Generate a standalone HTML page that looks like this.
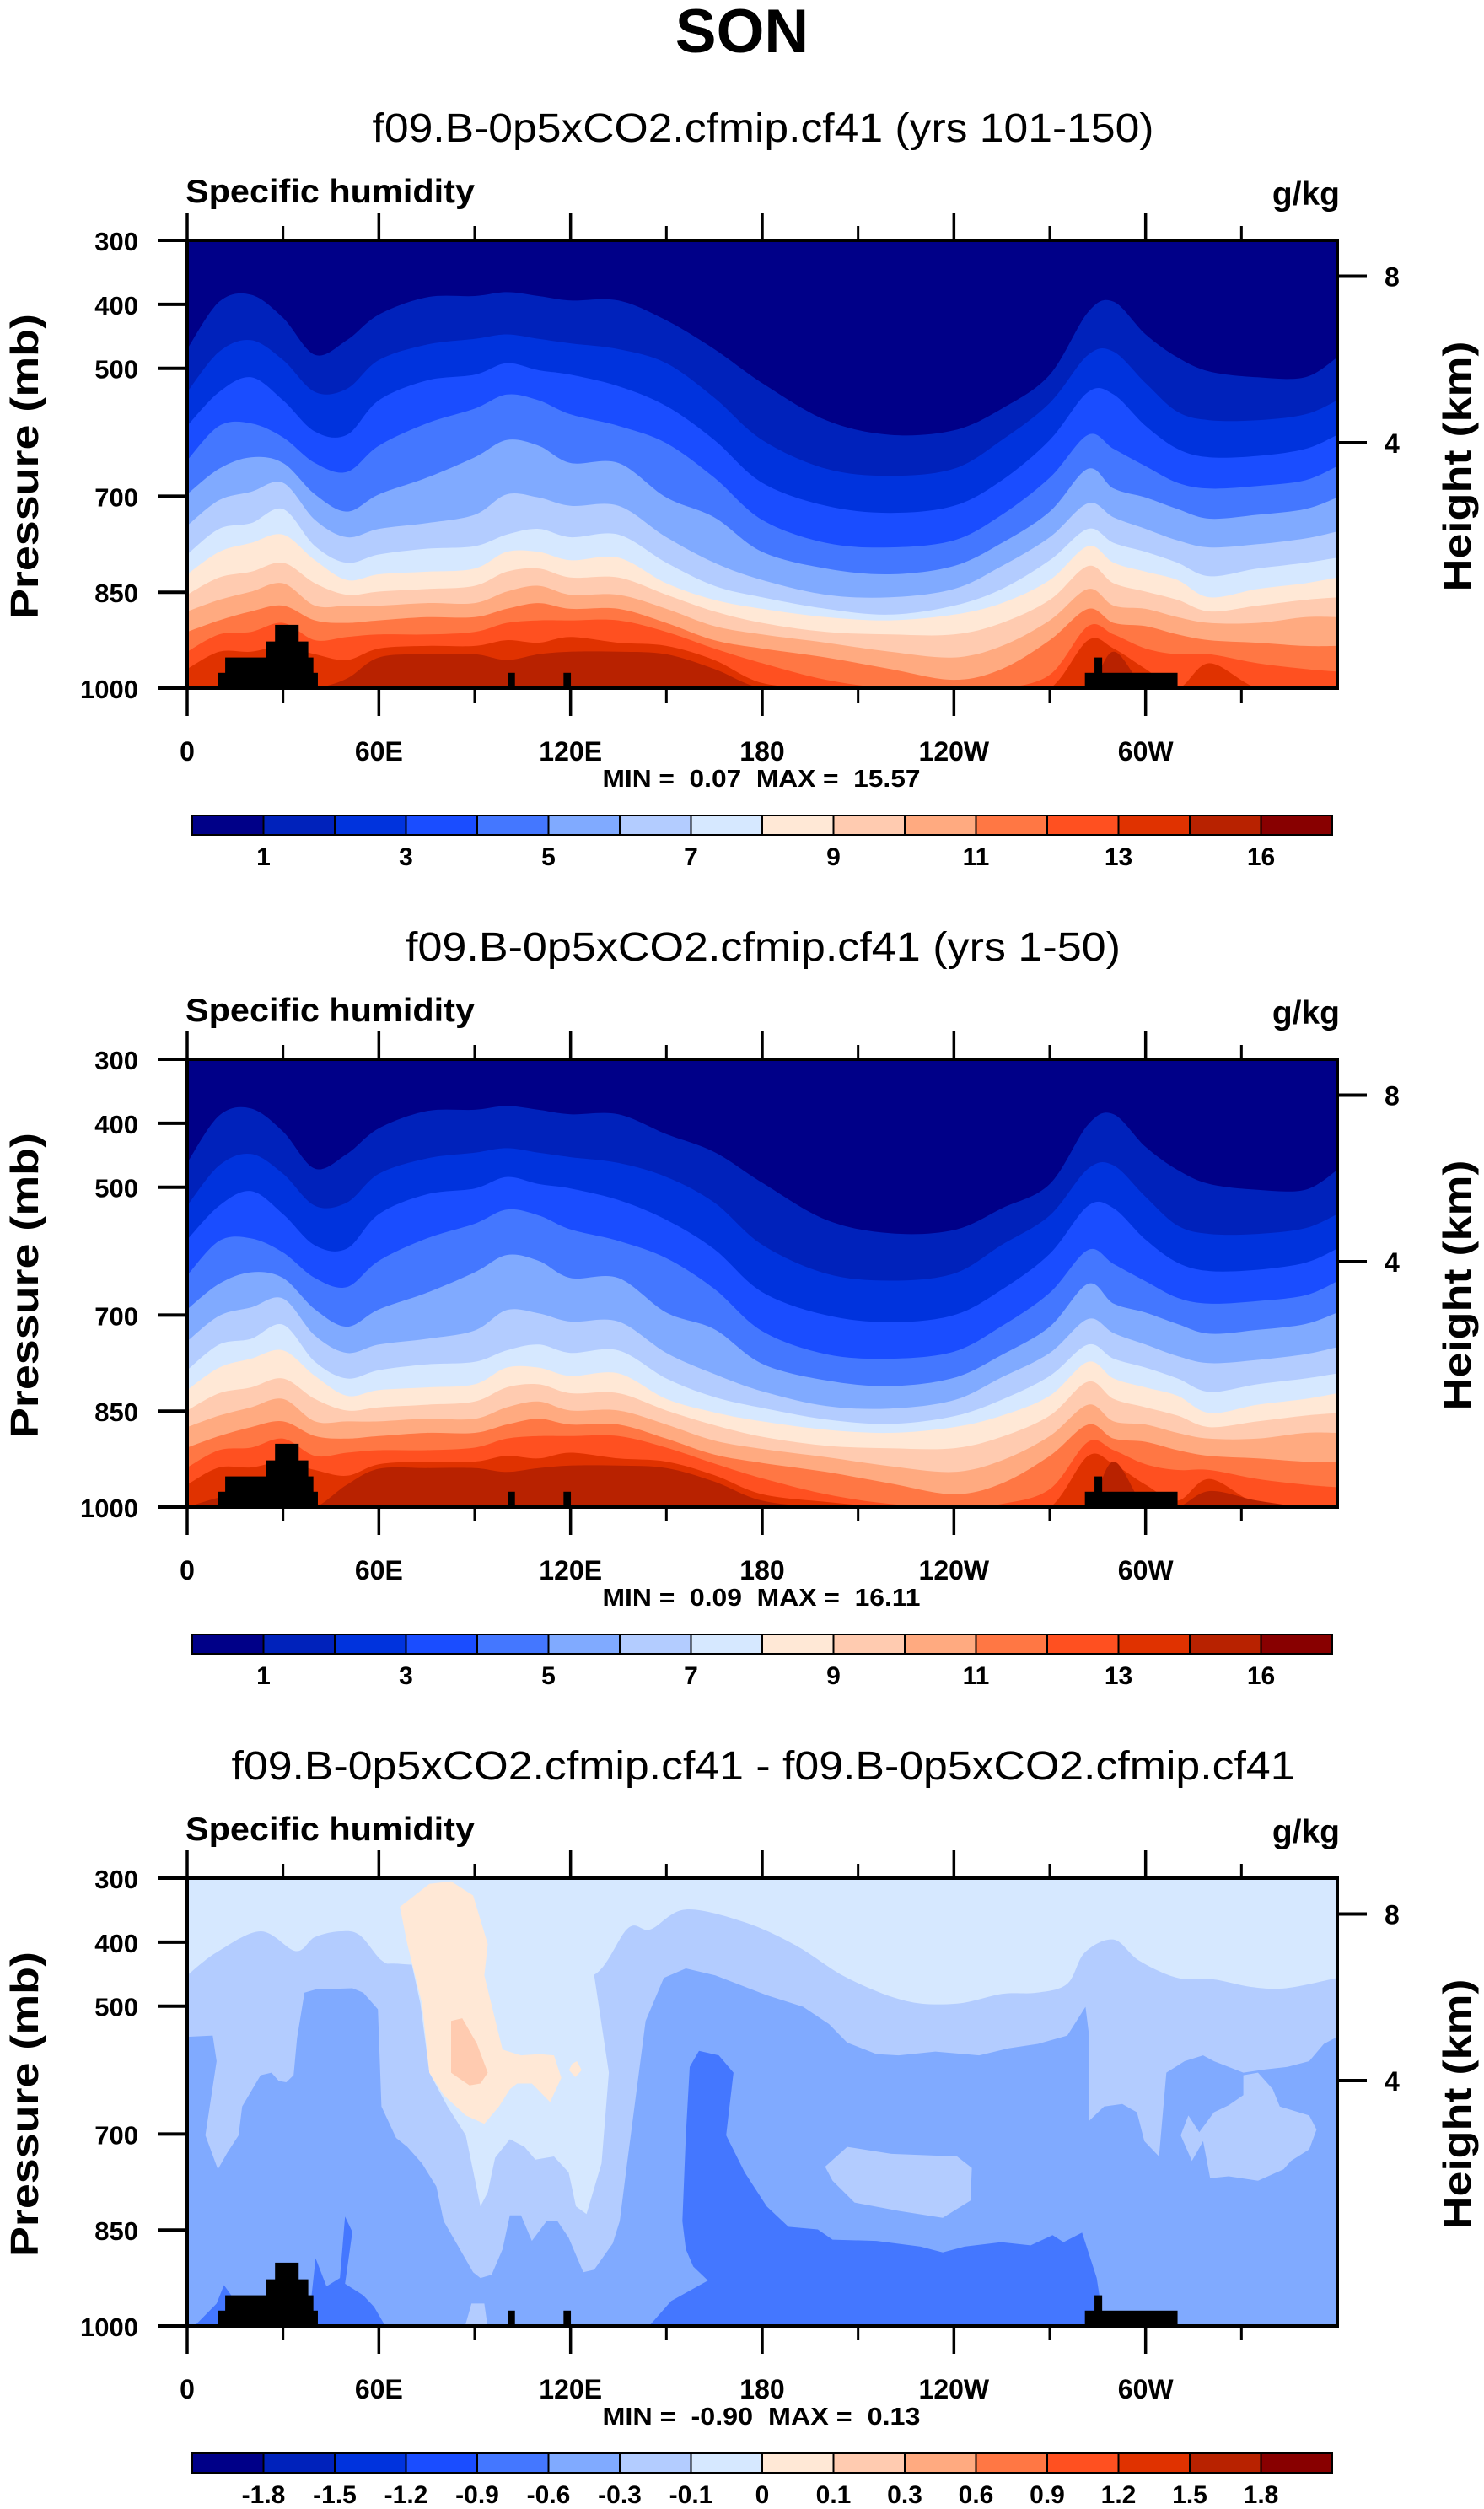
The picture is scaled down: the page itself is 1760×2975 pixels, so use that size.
<!DOCTYPE html>
<html><head><meta charset="utf-8"><title>SON Specific humidity</title>
<style>html,body{margin:0;padding:0;background:#fff}svg{display:block}text{font-family:"Liberation Sans",Arial,sans-serif}.pre{white-space:pre}</style>
</head><body>
<svg id="chart" xmlns="http://www.w3.org/2000/svg" width="1760" height="2975" viewBox="0 0 1760 2975">
<rect x="0" y="0" width="1760" height="2975" fill="#fff"/>
<text x="880" y="62" text-anchor="middle" font-size="73" font-weight="bold">SON</text>
</svg>
<script>
// ---- data ----
const lons=[0,10,20,30,40,50,60,75,90,100,110,120,135,150,165,180,200,220,240,255,270,282,290,300,310,320,335,350,360];
// panel 1 (yrs 101-150): pressure (mb) where q crosses each contour level
const p1_b0=[470,396,385,421,479,456,416,389,387,381,387,394,394,425,470,523,581,604,597,563,510,412,396,447,483,505,514,514,483];
const p1_b1=[537,474,456,487,537,532,487,463,454,447,454,461,470,492,546,612,657,668,657,612,554,479,474,523,568,581,581,572,550];
const p1_b2=[590,537,514,550,599,604,550,519,510,492,503,510,528,559,612,679,715,726,715,675,612,537,541,590,626,639,637,626,604];
const p1_b3=[644,590,586,608,648,662,621,586,563,541,550,572,590,617,671,737,773,780,769,729,671,604,626,653,679,688,684,675,653];
const p1_b4=[697,657,639,648,697,724,697,671,639,612,621,648,648,702,733,787,813,822,809,773,724,657,688,702,720,735,729,720,702];
const p1_b5=[746,706,693,679,737,764,751,742,729,697,702,715,715,764,804,831,854,858,845,809,764,711,733,751,769,780,775,766,755];
const p1_b6=[791,751,742,720,778,804,791,782,778,760,751,764,760,804,840,858,876,885,871,845,800,751,773,787,804,825,813,804,796];
const p1_b7=[822,787,773,760,800,831,822,818,813,787,787,800,796,836,862,876,889,894,885,867,831,778,804,818,831,858,845,836,827];
const p1_b8=[854,827,818,804,836,854,849,845,840,818,813,827,827,854,880,898,912,916,916,898,862,809,836,849,862,880,871,862,858];
const p1_b9=[880,862,849,836,871,871,871,867,867,849,840,854,854,876,903,916,929,943,952,934,894,845,871,876,889,898,898,889,889];
const p1_b10=[912,894,880,871,894,898,894,889,889,876,867,876,876,898,925,938,952,970,987,970,925,876,898,903,916,925,929,934,934];
const p1_b11=[943,916,912,898,925,920,916,916,912,898,894,894,894,912,938,961,987,1000,1000,1000,979,903,916,938,947,947,961,970,974];
const p1_b12=[970,943,943,934,947,956,938,934,934,925,929,920,929,934,956,992,1000,1000,1000,1000,1000,925,938,970,1000,961,1000,1000,1000];
const p1_b13=[1000,1000,1000,1000,1000,985,952,947,947,956,947,943,943,947,970,1000,1000,1000,1000,1000,1000,1000,943,1000,1000,1000,1000,1000,1000];
// panel 2 (yrs 1-50)
const p2_b0=[462,388,377,413,471,448,408,381,379,373,379,386,386,417,445,493,551,572,567,533,495,402,386,437,473,495,504,504,473];
const p2_b1=[529,466,448,479,529,524,479,455,446,439,446,453,462,484,524,590,635,646,635,590,544,471,466,515,560,573,573,564,542];
const p2_b2=[582,529,506,542,591,596,542,511,502,484,495,502,520,551,597,664,700,711,700,660,604,529,533,582,618,631,629,618,596];
const p2_b3=[638,584,580,602,642,656,615,580,557,535,544,566,584,611,659,725,761,768,757,717,665,598,620,647,673,682,678,669,647];
const p2_b4=[691,651,633,642,691,718,691,665,633,606,615,642,642,696,722,776,802,811,798,762,718,651,682,696,714,729,723,714,696];
const p2_b5=[741,701,688,674,732,759,746,737,724,692,697,710,710,759,792,819,842,846,833,797,759,706,728,746,764,775,770,761,750];
const p2_b6=[786,746,737,715,773,799,786,777,773,755,746,759,755,799,828,845,863,870,858,832,795,746,768,782,799,820,808,799,791];
const p2_b7=[817,782,768,755,795,826,817,813,808,782,782,795,791,831,852,866,879,884,875,857,826,773,799,813,826,853,840,831,822];
const p2_b8=[849,822,813,799,831,849,844,840,835,813,808,822,822,849,872,890,904,908,908,890,857,804,831,844,857,875,866,857,853];
const p2_b9=[875,857,844,831,866,866,866,862,862,844,835,849,849,871,896,909,922,936,945,927,889,840,866,871,884,893,893,884,884];
const p2_b10=[907,889,875,866,889,893,889,884,884,871,862,871,871,893,918,931,945,963,980,963,920,871,893,898,911,920,924,929,929];
const p2_b11=[938,911,907,893,920,915,911,911,907,893,889,889,889,907,932,955,980,995,1000,995,972,898,911,933,942,942,956,965,969];
const p2_b12=[965,938,938,929,942,951,933,929,929,920,924,915,924,929,950,980,992,1000,1000,1000,1000,920,933,965,990,956,995,1000,1000];
const p2_b13=[1000,985,975,1000,1000,965,940,939,939,945,939,935,935,939,960,990,1000,1000,1000,1000,1000,1000,929,1000,1000,975,990,1000,1000];
// panel 3 difference regions [lon, p]
const diffBand6Top=[[0,452],[9.2,416],[23,383],[34,414],[40,392],[48,383],[54,389],[61,429],[66.6,434],[90,440],[110,440],[127,452],[138,378],[145,380],[156,349],[174.5,369],[190.5,405],[206.6,456],[225,492],[241,496],[255,481],[266,479],[275.5,465],[281,416],[290,396],[298,429],[310,456],[321,458],[333,470],[344,472],[360,456]];
const diffColumn=[[64.3,300],[66.6,345],[68.9,403],[73,496],[75.8,604],[81.5,657],[87.2,702],[91.8,813],[94.1,791],[96.4,737],[101,708],[105.6,720],[109,740],[114.8,735],[119.4,760],[121.7,813],[125,825],[129.7,746],[132,604],[127.4,452],[130.9,300]];
const diffCream=[[66.6,345],[75.8,309],[82.6,305],[89.5,327],[94.1,403],[93,452],[98.7,568],[104.5,577],[110.2,575],[114.8,577],[117.1,612],[113.6,650],[107.9,621],[103.3,621],[101,630],[97.6,657],[93,684],[87.2,671],[80.3,639],[75.8,604],[73.5,496],[68.9,403]];
const diffCreamSmall=[[120.5,590],[122,586],[123.5,600],[121.5,611],[119.5,600]];
const diffPeach=[[82.6,523],[86.1,519],[90.7,559],[94.1,604],[91.8,621],[88.4,624],[84.9,612],[82.6,604]];
const diffBand5Top=[[0,548],[8,546],[9.2,586],[5.7,702],[9.6,755],[12.6,729],[16.1,702],[17.2,657],[23,608],[26.4,604],[28.7,617],[31,619],[33.3,608],[34.4,550],[36.7,479],[40.2,474],[51.7,472],[55.1,479],[59.7,505],[60.8,657],[65.4,706],[68.9,720],[73.5,746],[78,782],[80.3,836],[84.9,876],[89.5,916],[91.8,925],[95.3,920],[98.7,880],[101,827],[104.5,827],[107.9,867],[112.5,836],[115.9,836],[119.4,862],[124,916],[127.4,912],[133.2,871],[135.4,836],[137.7,746],[143.5,523],[149.2,456],[156.1,441],[165.3,452],[181.4,483],[192.8,501],[200.9,528],[206.6,557],[215.8,575],[222.7,577],[234.2,571],[247.9,577],[257.1,566],[266.3,559],[275.5,546],[281.2,501],[282.4,550],[282.4,679],[287,657],[292.7,653],[297.3,666],[299.6,711],[304.2,735],[306.5,604],[312.2,586],[318,577],[321.4,586],[330.6,604],[337.5,599],[344.4,595],[351.2,586],[355.8,559],[360,548]];
const diffBlobEast=[[311,702],[313.4,671],[316.8,697],[321.4,666],[326,655],[330.6,639],[330.6,608],[335.2,604],[339.8,630],[342,657],[351.2,671],[353.5,693],[351.2,724],[345.5,742],[343.2,755],[335.2,773],[326,766],[320.2,769],[318,711],[314.5,742]];
const diffBlobPacific=[[199.7,751],[206.6,720],[220.4,731],[241,735],[245.6,753],[245.2,804],[236.5,831],[222.7,820],[208.9,807],[202,773]];
const diffBlobLow=[[87,1000],[89,965],[93,965],[94,1000]];
const diffBand4Pacific=[[144.6,1000],[151.5,961],[163,929],[158.4,907],[156.1,880],[155,836],[156.1,702],[157.3,595],[160.2,570],[166.4,577],[171,604],[168.7,702],[174.5,760],[181.4,813],[188.2,845],[197.4,849],[202,865],[215.8,867],[229.6,876],[236.5,885],[243.3,876],[254.8,869],[264,874],[270.9,858],[274.3,869],[280.1,854],[284.7,925],[287,1000]];
const diffBand4Africa=[[37.9,1000],[40.2,894],[43.6,938],[47.8,925],[49.4,829],[51.7,853],[49.4,934],[55.1,952],[58.5,970],[62,1000]];
const diffBand4West=[[2.3,1000],[9.2,965],[11.5,936],[13.8,952],[10.3,1000]];
// topography blocks [lon0, lon1, pTop]
const topoLon0=[9.6,11.9,24.8,27.5,100.3,117.8,281,284];
const topoLon1=[40.9,39.5,37.9,34.9,102.6,120.1,310,286.4];
const topoTop=[976,952,927,901,976,976,976,952];
// axes
const pTicks=[300,400,500,700,850,1000];
const kmTicks=[8,4];
const lonMajor=[0,60,120,180,240,300];
const lonLabels=['0','60E','120E','180','120W','60W'];
const lonMinor=[30,90,150,210,270,330];
const sqLabels=['1','3','5','7','9','11','13','16'];
const sqLabelIdx=[1,3,5,7,9,11,13,15];
const diffLabels=['-1.8','-1.5','-1.2','-0.9','-0.6','-0.3','-0.1','0','0.1','0.3','0.6','0.9','1.2','1.5','1.8'];
const subtitles=['f09.B-0p5xCO2.cfmip.cf41 (yrs 101-150)','f09.B-0p5xCO2.cfmip.cf41 (yrs 1-50)','f09.B-0p5xCO2.cfmip.cf41 - f09.B-0p5xCO2.cfmip.cf41'];
const subtitleWidths=[927,848,1261];
const minVals=['0.07','0.09','-0.90'];
const maxVals=['15.57','16.11','0.13'];

const colors=['#000088','#0022bb','#0033dd','#1a4dff','#4477ff','#80aaff','#b3ccff','#d6e8ff','#ffe8d6','#ffcbb0','#ffaa80','#ff7744','#ff5020','#e03200','#b82200','#880000'];

const NS='http://www.w3.org/2000/svg';
const svg=document.getElementById('chart');
function mk(tag,attrs,parent){const e=document.createElementNS(NS,tag);for(const k in attrs)e.setAttribute(k,attrs[k]);(parent||svg).appendChild(e);return e;}
const X0=222,X1=1586,H=531;
function xS(lon){return X0+lon/360*(X1-X0);}
function yS(p,top){return top+(p-300)/700*H;}
function smoothPath(pts){let d='M'+pts[0][0].toFixed(1)+','+pts[0][1].toFixed(1);
 for(let i=0;i<pts.length-1;i++){const p0=pts[Math.max(0,i-1)],p1=pts[i],p2=pts[i+1],p3=pts[Math.min(pts.length-1,i+2)];
  const c1=[p1[0]+(p2[0]-p0[0])/6,p1[1]+(p2[1]-p0[1])/6],c2=[p2[0]-(p3[0]-p1[0])/6,p2[1]-(p3[1]-p1[1])/6];
  d+='C'+c1[0].toFixed(1)+','+c1[1].toFixed(1)+' '+c2[0].toFixed(1)+','+c2[1].toFixed(1)+' '+p2[0].toFixed(1)+','+p2[1].toFixed(1);}
 return d;}
function polyPath(arr,top){return 'M'+arr.map(a=>xS(a[0]).toFixed(1)+','+yS(a[1],top).toFixed(1)).join('L')+'Z';}
function curveBelow(arr,top){const pts=arr.map(a=>[xS(a[0]),yS(a[1],top)]);return smoothPath(pts)+'L'+xS(360)+','+(top+H)+'L'+xS(0)+','+(top+H)+'Z';}

function drawPanel(i,levels){
 const top=285+971*i, bot=top+H;
 const g=mk('g',{});
 
 
 const cp=mk('clipPath',{id:'clip'+i},g);
 mk('rect',{x:X0,y:top,width:X1-X0,height:H},cp);
 const plot=mk('g',{'clip-path':'url(#clip'+i+')'},g);
 
 
 if(levels){
  const bg=mk('rect',{x:X0,y:top,width:X1-X0,height:H,fill:colors[0]},plot);
  
  
  levels.forEach((arr,k)=>{
   const pts=arr.map((p,j)=>[xS(lons[j]),yS(p,top)]);
   const d=smoothPath(pts)+'L'+xS(360)+','+bot+'L'+xS(0)+','+bot+'Z';
   const path=mk('path',{d:d,fill:colors[k+1]},plot);
   
   
  });
 } else {
  const bg=mk('rect',{x:X0,y:top,width:X1-X0,height:H,fill:colors[7]},plot);
  
  
  const pb6=mk('path',{d:curveBelow(diffBand6Top,top),fill:colors[6]},plot);
  
  
  const pc=mk('path',{d:polyPath(diffColumn,top),fill:colors[7]},plot);
  
  
  const pb5=mk('path',{d:'M'+diffBand5Top.map(a=>xS(a[0]).toFixed(1)+','+yS(a[1],top).toFixed(1)).join('L')+'L'+xS(360)+','+bot+'L'+xS(0)+','+bot+'Z',fill:colors[5]},plot);
  
  
  [[diffBlobEast,'diff-blob-east'],[diffBlobPacific,'diff-blob-pacific'],[diffBlobLow,'diff-blob-low']].forEach(b=>{
   const e=mk('path',{d:polyPath(b[0],top),fill:colors[6]},plot);
   
   
  });
  [[diffBand4Pacific,'diff-band4-pacific'],[diffBand4Africa,'diff-band4-africa'],[diffBand4West,'diff-band4-west']].forEach(b=>{
   const e=mk('path',{d:polyPath(b[0],top),fill:colors[4]},plot);
   
   
  });
  const cr=mk('path',{d:polyPath(diffCream,top),fill:colors[8]},plot);
  
  
  const cr2=mk('path',{d:polyPath(diffCreamSmall,top),fill:colors[8]},plot);
  
  
  const pe=mk('path',{d:polyPath(diffPeach,top),fill:colors[9]},plot);
  
  
 }
 for(let t=0;t<topoLon0.length;t++){
  const r=mk('rect',{x:xS(topoLon0[t]),y:yS(topoTop[t],top),width:xS(topoLon1[t])-xS(topoLon0[t]),height:bot-yS(topoTop[t],top),fill:'#000'},plot);
  
  
 }
 const fr=mk('rect',{x:X0,y:top,width:X1-X0,height:H,fill:'none',stroke:'#000','stroke-width':4},g);
 
 
 pTicks.forEach(p=>{
  const y=yS(p,top);
  const tk=mk('line',{x1:187,x2:X0,y1:y,y2:y,stroke:'#000','stroke-width':4},g);
  
  
  const tx=mk('text',{x:164,y:y+12,'text-anchor':'end','font-size':31,'font-weight':'bold'},g);
  tx.textContent=p;
  
  
 });
 kmTicks.forEach(h=>{
  const p=1013.25*Math.pow(1-2.25577e-5*h*1000,5.25588);
  const y=yS(p,top);
  const tk=mk('line',{x1:X1,x2:1621,y1:y,y2:y,stroke:'#000','stroke-width':4},g);
  
  
  const tx=mk('text',{x:1642,y:y+12,'font-size':32,'font-weight':'bold'},g);
  tx.textContent=h;
  
  
 });
 lonMajor.forEach((lon,j)=>{
  const x=xS(lon);
  const t1=mk('line',{x1:x,x2:x,y1:top-33,y2:top,stroke:'#000','stroke-width':3.5},g);
  
  
  const t2=mk('line',{x1:x,x2:x,y1:bot,y2:bot+33,stroke:'#000','stroke-width':3.5},g);
  
  
  const tx=mk('text',{x:x,y:bot+86,'text-anchor':'middle','font-size':32,'font-weight':'bold'},g);
  tx.textContent=lonLabels[j];
  
  
 });
 lonMinor.forEach(lon=>{
  const x=xS(lon);
  const t1=mk('line',{x1:x,x2:x,y1:top-17,y2:top,stroke:'#000','stroke-width':3},g);
  
  
  const t2=mk('line',{x1:x,x2:x,y1:bot,y2:bot+17,stroke:'#000','stroke-width':3},g);
  
  
 });
 const st=mk('text',{x:905,y:top-117,'text-anchor':'middle','font-size':48,textLength:subtitleWidths[i],lengthAdjust:'spacingAndGlyphs'},g);
 st.textContent=subtitles[i];
 
 
 const lt=mk('text',{x:220,y:top-45,'font-size':39,'font-weight':'bold',textLength:343,lengthAdjust:'spacingAndGlyphs'},g);
 lt.textContent='Specific humidity';
 
 
 const ut=mk('text',{x:1589,y:top-42,'text-anchor':'end','font-size':39,'font-weight':'bold'},g);
 ut.textContent='g/kg';
 
 
 const ya=mk('text',{x:0,y:0,transform:'translate(45,'+(top+268)+') rotate(-90)','text-anchor':'middle','font-size':46,'font-weight':'bold',textLength:362,lengthAdjust:'spacingAndGlyphs'},g);
 ya.textContent='Pressure (mb)';
 
 
 const ya2=mk('text',{x:0,y:0,transform:'translate(1744,'+(top+268)+') rotate(-90)','text-anchor':'middle','font-size':46,'font-weight':'bold',textLength:297,lengthAdjust:'spacingAndGlyphs'},g);
 ya2.textContent='Height (km)';
 
 
 const mm=mk('text',{x:903,y:bot+117,'text-anchor':'middle','font-size':29,'font-weight':'bold','class':'pre',textLength:377,lengthAdjust:'spacingAndGlyphs'},g);
 mm.textContent='MIN =  '+minVals[i]+'  MAX =  '+maxVals[i];
 
 
 const cbY=bot+151, cbH=23, cbX=228, cbW=84.5;
 const cb=mk('g',{},g);
 
 
 for(let k=0;k<16;k++){
  const r=mk('rect',{x:cbX+k*cbW,y:cbY,width:cbW,height:cbH,fill:colors[k],stroke:'#000','stroke-width':2},cb);
  
  
 }
 const labs=levels?sqLabels:diffLabels;
 labs.forEach((l,j)=>{
  const idx=levels?sqLabelIdx[j]:j+1;
  const t=mk('text',{x:cbX+idx*cbW,y:cbY+59,'text-anchor':'middle','font-size':30,'font-weight':'bold'},cb);
  t.textContent=l;
  
  
 });
}
drawPanel(0,[p1_b0,p1_b1,p1_b2,p1_b3,p1_b4,p1_b5,p1_b6,p1_b7,p1_b8,p1_b9,p1_b10,p1_b11,p1_b12,p1_b13]);
drawPanel(1,[p2_b0,p2_b1,p2_b2,p2_b3,p2_b4,p2_b5,p2_b6,p2_b7,p2_b8,p2_b9,p2_b10,p2_b11,p2_b12,p2_b13]);
drawPanel(2,null);
</script>
</body></html>
